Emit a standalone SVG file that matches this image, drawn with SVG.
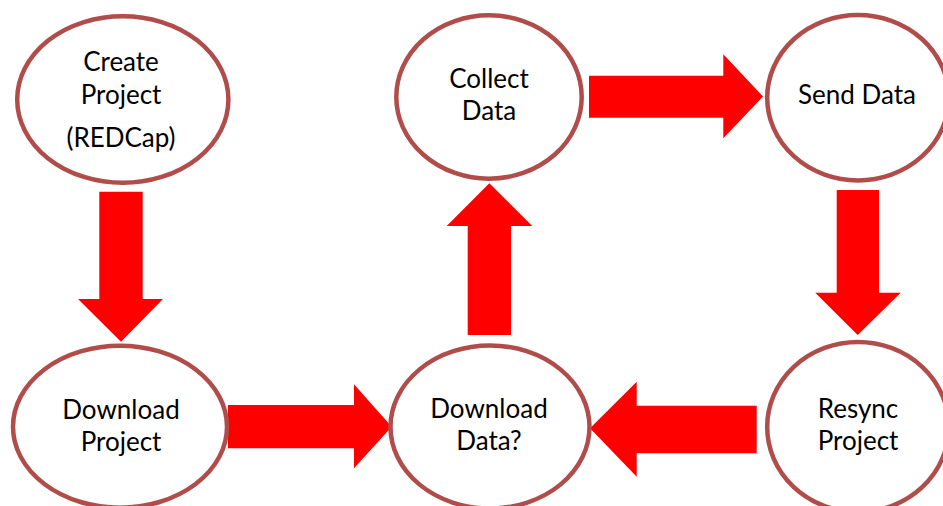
<svg xmlns="http://www.w3.org/2000/svg" width="943" height="506" viewBox="0 0 943 506">
<style>
.node ellipse{fill:#fff;stroke:#B04D4A;stroke-width:4.5}
.node text{font-family:Lato,"Liberation Sans",sans-serif;font-size:26px;fill:#000;text-anchor:middle}
.arrow{fill:#FF0000;stroke:none}
</style>
<rect width="943" height="506" fill="#fff"/>
<g id="connectors">
<polygon class="arrow" points="99.3,191.7 142.7,191.7 142.7,299 163,299 121,341.7 78,299 99.3,299"/>
<polygon class="arrow" points="228,405 354,405 354,384.3 391.7,426.7 354,468.3 354,448.3 228,448.3"/>
<polygon class="arrow" points="467.7,335 467.7,226 446.7,226 489.3,183.3 532.3,226 511,226 511,335"/>
<polygon class="arrow" points="589,75.7 723.3,75.7 723.3,54.3 763,96.5 723.3,138.3 723.3,117.7 589,117.7"/>
<polygon class="arrow" points="836.7,190 879,190 879,292.7 900.7,292.7 857.7,335 815.3,292.7 836.7,292.7"/>
<polygon class="arrow" points="756.7,405.7 636.7,405.7 636.7,381.7 590,428.3 636.7,476.7 636.7,453.3 756.7,453.3"/>
</g>
<g id="create-project" class="node">
<ellipse cx="122.8" cy="99.5" rx="105.6" ry="83.3"/>
<text x="121" y="71">Create</text>
<text x="121" y="104">Project</text>
<text x="121" y="146.7">(REDCap)</text>
</g>
<g id="download-project" class="node">
<ellipse cx="120" cy="426.7" rx="107" ry="81"/>
<text x="121" y="419.3">Download</text>
<text x="121" y="450.7">Project</text>
</g>
<g id="collect-data" class="node">
<ellipse cx="489" cy="97" rx="92.7" ry="81.7"/>
<text x="489" y="88.3">Collect</text>
<text x="489" y="120">Data</text>
</g>
<g id="send-data" class="node">
<ellipse cx="858" cy="97.7" rx="90.8" ry="82.7"/>
<text x="857" y="104">Send Data</text>
</g>
<g id="download-data" class="node">
<ellipse cx="490" cy="427" rx="99.5" ry="81.5"/>
<text x="489" y="418.3">Download</text>
<text x="489" y="450">Data?</text>
</g>
<g id="resync-project" class="node">
<ellipse cx="858" cy="427" rx="90.8" ry="85"/>
<text x="858" y="418.3">Resync</text>
<text x="858" y="450">Project</text>
</g>
</svg>
